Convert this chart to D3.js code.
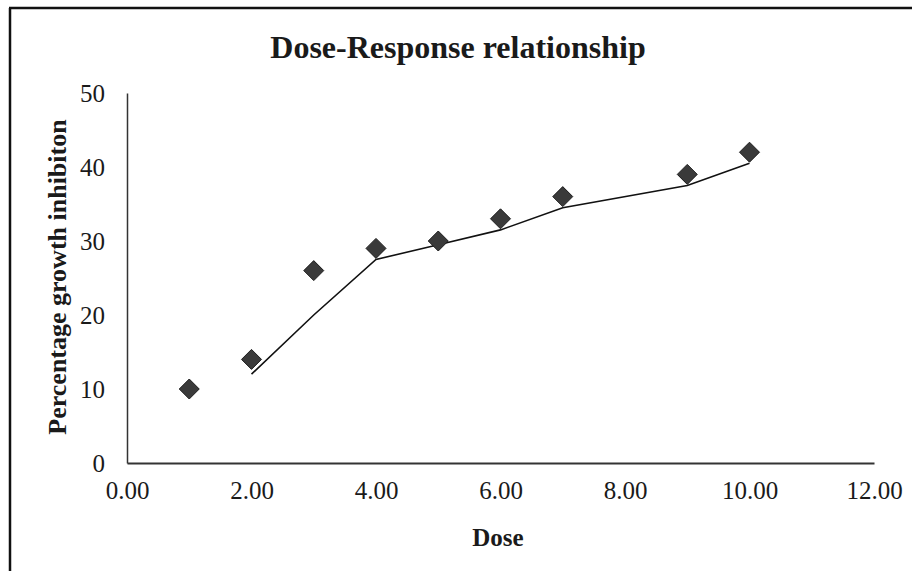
<!DOCTYPE html>
<html>
<head>
<meta charset="utf-8">
<script src="https://cdn.jsdelivr.net/npm/d3@7"></script>
<style>
  body { margin: 0; background: #fff; }
  svg { display: block; }
  text { font-family: "Liberation Serif", "DejaVu Serif", serif; fill: #1a1a1a; }
</style>
</head>
<body>
<div id="chart"></div>
<script>
// dose points (8 is missing in the source)
var doses = [1, 2, 3, 4, 5, 6, 7, 9, 10];
var inhibition = [10, 14, 26, 29, 30, 33, 36, 39, 42];
// 2-period moving average trendline, starts at the second point
var trendDoses = [2, 3, 4, 5, 6, 7, 9, 10];
var trendValues = [12, 20, 27.5, 29.5, 31.5, 34.5, 37.5, 40.5];
var xTicks = [0, 2, 4, 6, 8, 10, 12];
var yTicks = [0, 10, 20, 30, 40, 50];

var width = 912, height = 571;
var plot = { left: 127, right: 874, top: 93, bottom: 463 };

var svg = d3.select("#chart")
    .append("svg")
    .attr("width", width)
    .attr("height", height);

// scanned frame: only top and left edges show
svg.append("line")
    .attr("x1", 9).attr("x2", width).attr("y1", 8).attr("y2", 8)
    .attr("stroke", "#111").attr("stroke-width", 2.5);
svg.append("line")
    .attr("x1", 10).attr("x2", 10).attr("y1", 8).attr("y2", height)
    .attr("stroke", "#111").attr("stroke-width", 2.5);

var x = d3.scaleLinear().domain([0, 12]).range([plot.left, plot.right]);
var y = d3.scaleLinear().domain([0, 50]).range([plot.bottom, plot.top]);

var xAxis = svg.append("g")
    .attr("transform", "translate(0," + plot.bottom + ")")
    .call(d3.axisBottom(x).tickValues(xTicks).tickFormat(d3.format(".2f")).tickSize(0).tickPadding(18));
xAxis.select(".domain").attr("stroke", "#333").attr("stroke-width", 2);
xAxis.selectAll("text")
    .style("font-family", "Liberation Serif, serif")
    .style("font-size", "25px")
    .attr("fill", "#1a1a1a");

var yAxis = svg.append("g")
    .attr("transform", "translate(" + plot.left + ",0)")
    .call(d3.axisLeft(y).tickValues(yTicks).tickSize(0).tickPadding(22));
yAxis.select(".domain").attr("stroke", "#333").attr("stroke-width", 1.5);
yAxis.selectAll("text")
    .style("font-family", "Liberation Serif, serif")
    .style("font-size", "25px")
    .attr("fill", "#1a1a1a");

// trendline
var line = d3.line()
    .x(function (d, i) { return x(trendDoses[i]); })
    .y(function (d) { return y(d); });

svg.append("path")
    .datum(trendValues)
    .attr("d", line)
    .attr("fill", "none")
    .attr("stroke", "#111")
    .attr("stroke-width", 1.6);

// diamond markers
svg.selectAll(".pt")
    .data(inhibition)
    .enter()
    .append("path")
    .attr("class", "pt")
    .attr("d", "M0,-10L10,0L0,10L-10,0Z")
    .attr("transform", function (d, i) { return "translate(" + x(doses[i]) + "," + y(d) + ")"; })
    .attr("fill", "#3a3a3a")
    .attr("stroke", "#1c1c1c")
    .attr("stroke-width", 1);

svg.append("text")
    .attr("x", 458)
    .attr("y", 58)
    .attr("text-anchor", "middle")
    .style("font-size", "32px")
    .style("font-weight", "bold")
    .text("Dose-Response relationship");

svg.append("text")
    .attr("x", 498)
    .attr("y", 546)
    .attr("text-anchor", "middle")
    .style("font-size", "25px")
    .style("font-weight", "bold")
    .text("Dose");

svg.append("text")
    .attr("transform", "translate(66,277) rotate(-90)")
    .attr("text-anchor", "middle")
    .style("font-size", "26px")
    .style("font-weight", "bold")
    .text("Percentage growth inhibiton");
</script>
</body>
</html>
